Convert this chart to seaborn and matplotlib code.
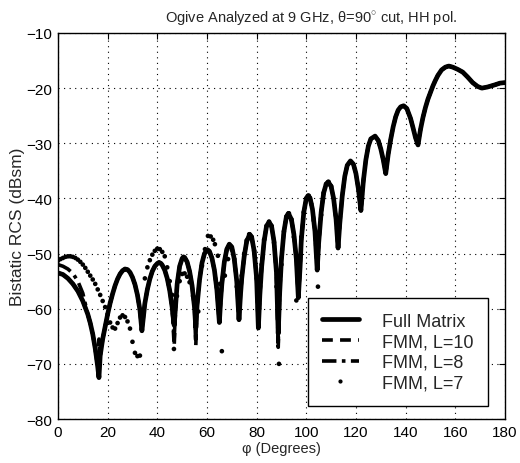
import numpy as np
import pandas as pd
import matplotlib
matplotlib.use("Agg")
import matplotlib.pyplot as plt
from matplotlib.lines import Line2D
import seaborn as sns

# ---------------- data ----------------
full_phi = [0, 2, 4, 6, 8, 10, 12, 13, 14, 15, 16, 16.5,
            17, 18, 19, 20, 21, 22, 23, 24, 25, 26, 27, 28, 29, 30, 31, 32, 33, 33.8,
            34.5, 35, 36, 37, 38, 39, 40, 40.7, 41.5, 42, 43, 44, 45, 46, 46.8,
            47.5, 48, 49, 50, 50.5, 51, 52, 53, 54, 55, 55.5,
            56, 57, 58, 59, 60.2, 61, 62, 63, 64, 65,
            65.5, 66, 67, 68, 69, 70, 71, 72, 72.9,
            73.5, 74, 75, 76, 77.2, 78, 79, 80, 80.7,
            81.3, 82, 83, 84, 85, 86, 87, 88, 88.7,
            89.3, 90, 91, 92, 92.8, 94, 95, 96, 96.8,
            97.5, 98, 99, 100, 100.7, 101.5, 102.5, 103.5, 104.4,
            105, 106, 107, 108, 108.8, 110, 111, 112, 112.8,
            113.5, 114.5, 115.5, 116.5, 117.8, 119, 120, 121, 122,
            123, 124, 125, 126, 127.7, 129, 130, 131, 132,
            133, 134, 135, 136, 137, 138, 139.2, 140.5, 142, 143, 144, 145,
            146, 147, 148, 149, 150, 151, 152, 153, 154.5, 156, 157.4,
            159, 161, 163, 165, 167, 169, 170.7, 173, 176, 178, 180]
full_db = [-53.5, -53.8, -54.5, -55.5, -56.8, -58.6, -61.0, -62.6, -64.6, -67.2, -70.5, -72.5,
           -68.5, -65.5, -63.2, -61.0, -59.0, -57.3, -55.8, -54.6, -53.7, -53.1, -52.8, -52.9, -53.4, -54.3, -55.6, -57.5, -60.2, -64.0,
           -61.0, -59.0, -56.5, -54.6, -53.2, -52.3, -51.8, -51.6, -51.8, -52.1, -53.0, -54.5, -56.7, -59.8, -63.0,
           -58.5, -55.5, -52.3, -50.9, -50.6, -50.7, -51.5, -53.2, -55.8, -59.8, -63.5,
           -59.5, -54.8, -51.7, -50.0, -49.3, -49.6, -50.8, -53.0, -56.6, -62.5,
           -58.5, -55.5, -51.5, -49.2, -48.3, -48.8, -51.0, -55.0, -62.0,
           -57.5, -54.5, -50.5, -47.8, -46.5, -47.0, -49.5, -54.5, -63.5,
           -57.5, -52.5, -47.8, -45.0, -44.3, -45.0, -47.8, -53.5, -64.5,
           -57.0, -51.0, -46.0, -43.3, -42.7, -43.8, -46.5, -51.0, -58.0,
           -52.5, -47.5, -42.5, -40.0, -39.5, -39.9, -42.0, -46.0, -53.0,
           -48.0, -42.5, -39.0, -37.4, -37.0, -37.8, -40.0, -43.8, -49.0,
           -44.5, -39.5, -36.0, -34.0, -33.2, -33.8, -35.5, -38.3, -42.2,
           -36.8, -33.0, -30.5, -29.2, -28.7, -29.5, -31.0, -33.0, -35.5,
           -32.0, -29.3, -27.0, -25.2, -24.0, -23.4, -23.2, -23.7, -25.5, -27.2, -29.0, -30.3,
           -27.5, -25.3, -23.5, -22.0, -20.8, -19.6, -18.6, -17.7, -16.7, -16.2, -16.0,
           -16.2, -16.6, -17.1, -18.0, -19.0, -19.7, -20.0, -19.8, -19.4, -19.1, -19.0]

# FMM, L=10: same as full matrix except at these nulls (phi: dB)
l10_changes = {16.5: -65.5, 46.8: -66.8, 55.5: -66.8, 88.7: -67.0}
# FMM, L=8: differs at start and at these nulls (phi: dB)
l8_changes = {0: -52.0, 2: -52.3, 4: -52.8, 6: -53.6, 8: -55.0, 10: -57.2,
              16.5: -66.0, 46.8: -65.5, 55.5: -65.8, 88.7: -66.2}

# FMM, L=7 (dots)
l7_phi = list(range(0, 47)) + [46.7, 47.9, 49, 50, 51, 52, 53, 54.4, 55.5, 56.5, 58, 59.2, 60.4,
                               61.5, 62.5, 63.2, 64.4, 65.2, 66, 67.2, 68.5, 70, 71, 72, 73,
                               74, 75, 76, 77, 78, 79, 80, 81, 82, 83, 84, 85, 86, 87, 88, 89,
                               90, 91, 92, 93, 94, 95, 96, 97, 98, 99, 100, 101, 102, 103, 104,
                               104.7, 106, 107, 108, 109, 110]
l7_db = [-51.3, -51.0, -50.8, -50.6, -50.5, -50.5, -50.6, -50.8, -51.1, -51.5,
         -52.0, -52.6, -53.3, -54.0, -54.7, -55.5, -56.5, -57.5, -58.6, -59.7,
         -61.0, -62.5, -63.4, -63.6, -62.6, -61.6, -61.2, -61.5, -62.3, -63.6,
         -66.0, -68.0, -68.6, -68.5, -60.5, -54.5, -52.5, -51.2, -50.2, -49.5,
         -49.1, -49.2, -49.7, -50.5, -52.5, -55.0, -57.5,
         -67.3, -57.7, -55.0, -53.7, -53.6, -54.2, -55.2, -57.7, -62.0, -60.5, -52.2, -49.2, -46.8,
         -46.9, -47.5, -48.3, -50.4, -55.5, -67.7, -54.0, -51.0, -49.3, -51.0, -56.0, -60.0,
         -54.0, -50.0, -47.6, -46.5, -47.0, -49.5, -54.5, -60.0, -52.0, -47.5, -45.0, -44.2, -45.0, -48.0, -56.0, -70.0,
         -52.0, -46.0, -43.3, -42.7, -43.8, -47.0, -58.5, -53.0, -47.0, -42.5, -40.0, -39.5, -41.0, -44.0, -48.5,
         -56.0, -43.0, -39.0, -37.4, -37.0, -37.8]

title = "Ogive Analyzed at 9 GHz, θ=90$^{\\circ}$ cut, HH pol."
xlabel = "φ (Degrees)"
ylabel = "Bistatic RCS (dBsm)"
legend_labels = ["Full Matrix", "FMM, L=10", "FMM, L=8", "FMM, L=7"]
xticks = list(range(0, 181, 20))
yticks = list(range(-80, -9, 10))

# ---------------- build tables ----------------
def with_changes(changes):
    vals = list(full_db)
    for ph, v in changes.items():
        vals[full_phi.index(ph)] = v
    return vals

df_full = pd.DataFrame({"phi": full_phi, "db": full_db})
df_l10 = pd.DataFrame({"phi": full_phi, "db": with_changes(l10_changes)})
df_l8 = pd.DataFrame({"phi": full_phi, "db": with_changes(l8_changes)})
df_l7 = pd.DataFrame({"phi": l7_phi, "db": l7_db})

# ---------------- plot ----------------
sns.set_theme(style="white")
plt.rcParams["font.family"] = ["Liberation Sans", "DejaVu Sans"]
plt.rcParams["mathtext.fontset"] = "custom"
plt.rcParams["mathtext.rm"] = "Liberation Sans"

fig = plt.figure(figsize=(5.2, 4.64), dpi=100)
ax = fig.add_axes([0.1115, 0.0948, 0.8595, 0.832])

dash10 = (0, (3, 2))
dash8 = (0, (4, 1.5, 1, 1.5))
sns.lineplot(data=df_l10, x="phi", y="db", ax=ax, color="black", lw=2.6,
             estimator=None, sort=False, linestyle=dash10)
sns.lineplot(data=df_l8, x="phi", y="db", ax=ax, color="black", lw=2.6,
             estimator=None, sort=False, linestyle=dash8)
sns.lineplot(data=df_full, x="phi", y="db", ax=ax, color="black", lw=3.4,
             estimator=None, sort=False)
sns.scatterplot(data=df_l7, x="phi", y="db", ax=ax, color="black", s=11,
                edgecolor="none", linewidth=0)

ax.set_xlim(0, 180)
ax.set_ylim(-80, -10)
ax.set_xticks(xticks)
ax.set_yticks(yticks)
ax.set_yticklabels([f"\u2212{abs(t)}" for t in yticks])
ax.grid(True, color="black", linestyle=(0, (1, 4)), linewidth=0.8)
ax.tick_params(direction="in", length=4, width=0.8, top=True, right=True,
               labelsize=11, colors="black", pad=4)
for s in ax.spines.values():
    s.set_color("black")
    s.set_linewidth(1.0)

ax.set_title(title, fontsize=10.5, pad=8, x=0.566)
ax.set_xlabel(xlabel, fontsize=10.5, labelpad=2)
ax.set_ylabel(ylabel, fontsize=12.5, labelpad=1)

handles = [
    Line2D([], [], color="black", lw=3.4),
    Line2D([], [], color="black", lw=2.6, linestyle=dash10),
    Line2D([], [], color="black", lw=2.6, linestyle=dash8),
    Line2D([], [], color="black", lw=0, marker=".", markersize=4),
]
leg = ax.legend(handles, legend_labels, loc="lower right", fontsize=13,
                frameon=True, fancybox=False, framealpha=1, edgecolor="black",
                handlelength=2.0, handletextpad=1.3, labelspacing=0.2,
                borderpad=0.8, borderaxespad=0, bbox_to_anchor=(0.962, 0.034))
leg.get_frame().set_linewidth(1.0)

fig.savefig("out.png", dpi=100)
